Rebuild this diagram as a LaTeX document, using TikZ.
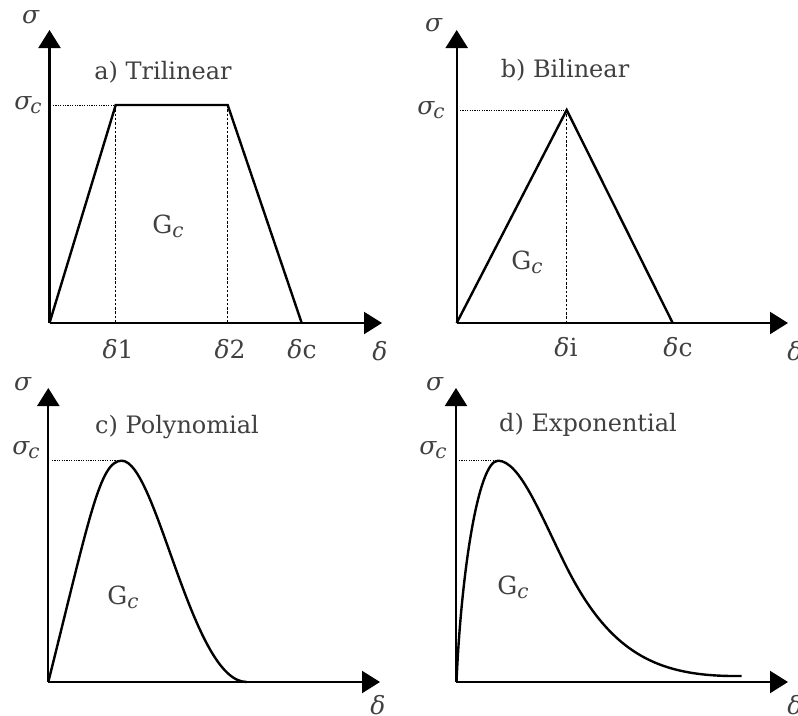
\documentclass[tikz,border=0pt]{standalone}
\usepackage{fontspec}
\setmainfont{DejaVu Serif}
\usetikzlibrary{arrows.meta}
\definecolor{txt}{HTML}{404040}
\tikzset{
  axis/.style={line width=2.2pt,-{Triangle[length=18pt,width=22pt]}},
  law/.style={line width=2.4pt,line join=miter},
  guide/.style={line width=0.9pt,dash pattern=on 2.5pt off 1.8pt},
  hguide/.style={line width=0.9pt,dash pattern=on 1.2pt off 1.2pt},
  lbl/.style={text=txt,font=\fontsize{25}{28}\selectfont,inner sep=0pt},
  ttl/.style={text=txt,font=\fontsize{24}{28}\selectfont,inner sep=0pt},
}
\newcommand{\sig}{\textit{σ}}
\newcommand{\sigc}{\textit{σ\kern-1pt\raisebox{-4pt}{\fontsize{20}{22}\selectfont c}}}
\newcommand{\del}{\textit{δ}}
\newcommand{\gc}{G\raisebox{-4pt}{\fontsize{20}{22}\selectfont\textit{c}}}
\begin{document}
\begin{tikzpicture}[x=1pt,y=-1pt]
\useasboundingbox (0,0) rectangle (798,715);
% ---------- a) Trilinear ----------
\coordinate (oa) at (49.5,323);
\coordinate (ya) at (49.5,30);
\coordinate (xa) at (382,323);
\coordinate (a1) at (115.7,105);
\coordinate (a2) at (227.7,105);
\coordinate (a3) at (301.7,323);
\coordinate (a1b) at (115.7,323);
\coordinate (a2b) at (227.7,323);
\coordinate (ah) at (53,105);
\draw[guide] (a1) -- (a1b);
\draw[guide] (a2) -- (a2b);
\draw[hguide] (ah) -- (a1);
\draw[law] (oa) -- (a1) -- (a2) -- (a3);
\draw[axis] (oa) -- (ya);
\draw[axis] (oa) -- (xa);
\node[lbl] (sa) at (31,17) {\sig};
\node[lbl] (sca) at (28,105) {\sigc};
\node[ttl] (ta) at (163,72) {a) Trilinear};
\node[lbl] (ga) at (168,226) {\gc};
\node[lbl] (d1) at (118,349) {\del1};
\node[lbl] (d2) at (230,349) {\del2};
\node[lbl] (dca) at (302,349) {\del c};
\node[lbl] (da) at (380,351) {\del};
% ---------- b) Bilinear ----------
\coordinate (ob) at (456.7,323);
\coordinate (yb) at (456.7,30);
\coordinate (xb) at (788,323);
\coordinate (b1) at (566.7,110);
\coordinate (b2) at (672.7,323);
\coordinate (b1b) at (566.7,323);
\coordinate (bh) at (460,110);
\draw[guide] (b1) -- (b1b);
\draw[hguide] (bh) -- (b1);
\draw[law] (ob) -- (b1) -- (b2);
\draw[axis] (ob) -- (yb);
\draw[axis] (ob) -- (xb);
\node[lbl] (sb) at (434,25) {\sig};
\node[lbl] (scb) at (431,110) {\sigc};
\node[ttl] (tb) at (565,70) {b) Bilinear};
\node[lbl] (gb) at (527,262) {\gc};
\node[lbl] (dib) at (566,347) {\del i};
\node[lbl] (dcb) at (678,347) {\del c};
\node[lbl] (db) at (795,351) {\del};
% ---------- c) Polynomial ----------
\coordinate (oc) at (48.3,682);
\coordinate (yc) at (48.3,388);
\coordinate (xc) at (380,682);
\coordinate (cp) at (121.7,460.7);
\coordinate (ce) at (246.7,682);
\coordinate (ch) at (52,460.7);
\draw[hguide] (ch) -- (cp);
\draw[law,line join=round] (oc) .. controls (90,515) and (100,460.7) .. (cp)
  .. controls (156.7,460.7) and (191.7,682) .. (ce);
\draw[axis] (oc) -- (yc);
\draw[axis] (oc) -- (xc);
\node[lbl] (sc) at (23,384) {\sig};
\node[lbl] (scc) at (26,450) {\sigc};
\node[ttl] (tc) at (177,427) {c) Polynomial};
\node[lbl] (gcn) at (123,597) {\gc};
\node[lbl] (dc) at (378,705) {\del};
% ---------- d) Exponential ----------
\coordinate (od) at (456,682);
\coordinate (yd) at (456,388);
\coordinate (xd) at (788,682);
\coordinate (dp) at (498,460.7);
\coordinate (dh) at (459,460.7);
\coordinate (dm) at (566,566);
\coordinate (de) at (741.7,676);
\draw[hguide] (dh) -- (dp);
\draw[law,line join=round] (456.5,682) .. controls (461,575) and (478,460.7) .. (dp)
  .. controls (520,460.7) and (541,516) .. (dm)
  .. controls (611,656) and (660,677) .. (de);
\draw[axis] (od) -- (yd);
\draw[axis] (od) -- (xd);
\node[lbl] (sd) at (435,384) {\sig};
\node[lbl] (scd) at (433,450) {\sigc};
\node[ttl] (td) at (588,425) {d) Exponential};
\node[lbl] (gd) at (513,587) {\gc};
\node[lbl] (ddd) at (795,705) {\del};
\end{tikzpicture}
\end{document}
